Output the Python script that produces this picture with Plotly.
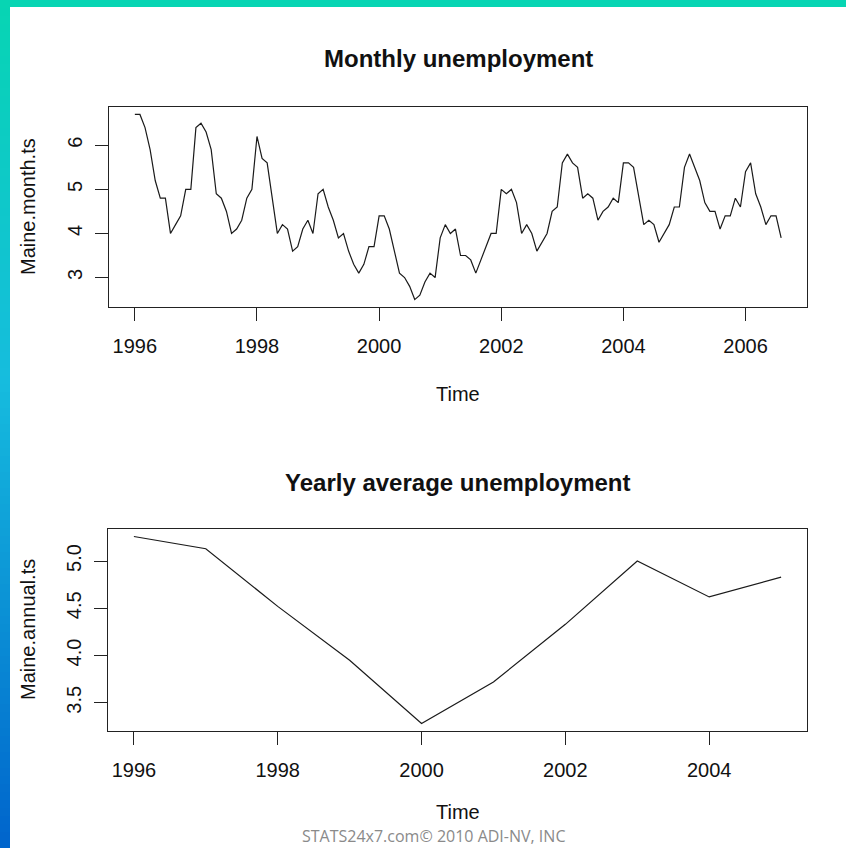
import plotly.graph_objects as go

# Maine monthly unemployment rate (%), Jan 1996 - Aug 2006
start_year = 1996
monthly_rate = [
    6.7, 6.7, 6.4, 5.9, 5.2, 4.8, 4.8, 4.0, 4.2, 4.4, 5.0, 5.0,   # 1996
    6.4, 6.5, 6.3, 5.9, 4.9, 4.8, 4.5, 4.0, 4.1, 4.3, 4.8, 5.0,   # 1997
    6.2, 5.7, 5.6, 4.8, 4.0, 4.2, 4.1, 3.6, 3.7, 4.1, 4.3, 4.0,   # 1998
    4.9, 5.0, 4.6, 4.3, 3.9, 4.0, 3.6, 3.3, 3.1, 3.3, 3.7, 3.7,   # 1999
    4.4, 4.4, 4.1, 3.6, 3.1, 3.0, 2.8, 2.5, 2.6, 2.9, 3.1, 3.0,   # 2000
    3.9, 4.2, 4.0, 4.1, 3.5, 3.5, 3.4, 3.1, 3.4, 3.7, 4.0, 4.0,   # 2001
    5.0, 4.9, 5.0, 4.7, 4.0, 4.2, 4.0, 3.6, 3.8, 4.0, 4.5, 4.6,   # 2002
    5.6, 5.8, 5.6, 5.5, 4.8, 4.9, 4.8, 4.3, 4.5, 4.6, 4.8, 4.7,   # 2003
    5.6, 5.6, 5.5, 4.8, 4.2, 4.3, 4.2, 3.8, 4.0, 4.2, 4.6, 4.6,   # 2004
    5.5, 5.8, 5.5, 5.2, 4.7, 4.5, 4.5, 4.1, 4.4, 4.4, 4.8, 4.6,   # 2005
    5.4, 5.6, 4.9, 4.6, 4.2, 4.4, 4.4, 3.9,                       # 2006
]
month_time = [start_year + i / 12 for i in range(len(monthly_rate))]

# Yearly average unemployment rate (%)
annual_years = [1996, 1997, 1998, 1999, 2000, 2001, 2002, 2003, 2004, 2005]
annual_rate = [5.26, 5.13, 4.52, 3.95, 3.28, 3.72, 4.33, 5.00, 4.62, 4.83]

top_xticks = [1996, 1998, 2000, 2002, 2004, 2006]
top_yticks = [3, 4, 5, 6]
bot_xticks = [1996, 1998, 2000, 2002, 2004]
bot_yticks = [3.5, 4.0, 4.5, 5.0]

W, H = 846, 848
FONT = "Liberation Sans, Arial, sans-serif"


def padded(lo, hi, frac=0.04):
    span = hi - lo
    return [lo - frac * span, hi + frac * span]


def px_x(a, b):
    return [a / W, b / W]


def px_y(top, bottom):
    return [1 - bottom / H, 1 - top / H]


fig = go.Figure()
fig.add_trace(go.Scatter(x=month_time, y=monthly_rate, mode="lines",
                         line=dict(color="#1a1a1a", width=1.2),
                         xaxis="x", yaxis="y", showlegend=False))
fig.add_trace(go.Scatter(x=annual_years, y=annual_rate, mode="lines",
                         line=dict(color="#1a1a1a", width=1.2),
                         xaxis="x2", yaxis="y2", showlegend=False))

axis_common = dict(showgrid=False, zeroline=False, showline=True, mirror=True,
                   linecolor="#222", linewidth=1, ticks="outside", ticklen=13,
                   tickcolor="#222", tickwidth=1,
                   tickfont=dict(family=FONT, size=20, color="#111"))

fig.update_layout(
    width=W, height=H,
    margin=dict(l=0, r=0, t=0, b=0),
    paper_bgcolor="white", plot_bgcolor="white",
    xaxis=dict(domain=px_x(109, 807), range=padded(month_time[0], month_time[-1]),
               tickvals=top_xticks, ticklabelstandoff=8, anchor="y", **axis_common),
    yaxis=dict(domain=px_y(107, 307), range=padded(min(monthly_rate), max(monthly_rate)),
               tickvals=top_yticks, tickangle=-90, ticklabelstandoff=5, anchor="x",
               **axis_common),
    xaxis2=dict(domain=px_x(108, 807), range=padded(annual_years[0], annual_years[-1]),
                tickvals=bot_xticks, ticklabelstandoff=8, anchor="y2", **axis_common),
    yaxis2=dict(domain=px_y(529, 731), range=padded(min(annual_rate), max(annual_rate)),
                tickvals=bot_yticks, tickformat=".1f", tickangle=-90,
                ticklabelstandoff=5, anchor="x2", **axis_common),
)


def label(text, x, y, size=20, bold=False, angle=0, color="#111", family=FONT,
          yanchor="middle", pad=1):
    fig.add_annotation(text=f"<b>{text}</b>" if bold else text,
                       x=x / W, y=1 - y / H, xref="paper", yref="paper",
                       showarrow=False, textangle=angle, xanchor="center",
                       yanchor=yanchor, borderpad=pad,
                       font=dict(family=family, size=size, color=color))


label("Monthly unemployment", 458, 59, size=24, bold=True)
label("Time", 458, 394)
label("Maine.month.ts", 28, 207, angle=-90)
label("Yearly average unemployment", 458, 482, size=24, bold=True)
label("Time", 458, 812, pad=0)
label("Maine.annual.ts", 28, 630, angle=-90)
label("STATS24x7.com© 2010 ADI-NV, INC", 433, 848, size=16, color="#8a8a8a",
      family="Open Sans, sans-serif", yanchor="bottom", pad=0)

# Slide frame: solid teal top bar and a teal-to-blue left edge
shapes = [dict(type="rect", xref="paper", yref="paper", x0=0, x1=1,
               y0=1 - 7 / H, y1=1, fillcolor="rgb(7,213,179)", line=dict(width=0),
               layer="above")]
stops = [(0.0, (7, 213, 179)), (0.45, (22, 188, 222)), (1.0, (0, 100, 204))]
n_bands = 106
for k in range(n_bands):
    t = (k + 0.5) / n_bands
    for (t0, c0), (t1, c1) in zip(stops[:-1], stops[1:]):
        if t0 <= t <= t1:
            f = (t - t0) / (t1 - t0)
            rgb = tuple(round(a + (b - a) * f) for a, b in zip(c0, c1))
            break
    shapes.append(dict(type="rect", xref="paper", yref="paper",
                       x0=0, x1=10 / W, y0=1 - (k + 1) / n_bands, y1=1 - k / n_bands,
                       fillcolor="rgb(%d,%d,%d)" % rgb, line=dict(width=0), layer="above"))
fig.update_layout(shapes=shapes)

fig.write_html("out.html")
